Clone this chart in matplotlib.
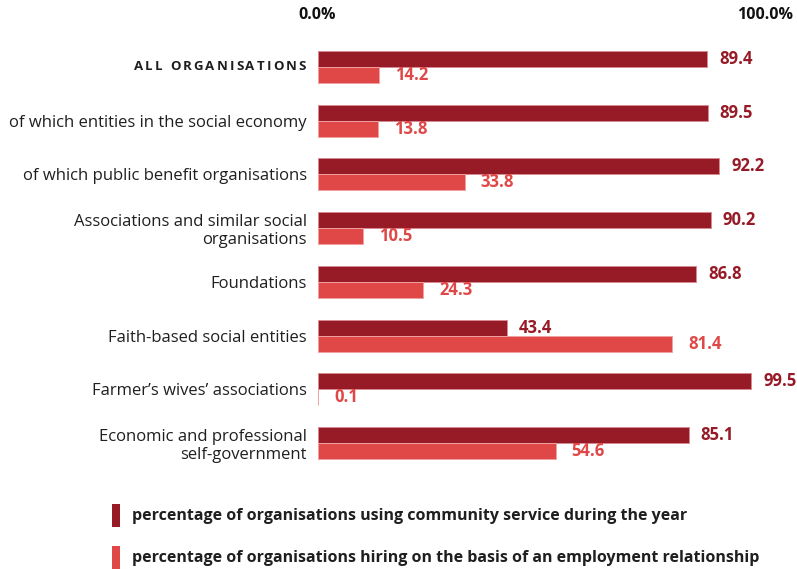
import matplotlib
matplotlib.use("Agg")
import matplotlib.pyplot as plt
import matplotlib.transforms as mtransforms
from matplotlib.patches import Rectangle
from matplotlib.textpath import TextToPath
from matplotlib.font_manager import FontProperties
import numpy as np

categories = [
    "ALL ORGANISATIONS",
    "of which entities in the social economy",
    "of which public benefit organisations",
    "Associations and similar social\norganisations",
    "Foundations",
    "Faith-based social entities",
    "Farmer\u2019s wives\u2019 associations",
    "Economic and professional\nself-government",
]
community_service = [89.4, 89.5, 92.2, 90.2, 86.8, 43.4, 99.5, 85.1]
employment = [14.2, 13.8, 33.8, 10.5, 24.3, 81.4, 0.1, 54.6]
series_names = [
    "percentage of organisations using community service during the year",
    "percentage of organisations hiring on the basis of an employment relationship",
]
axis_labels = ["0.0%", "100.0%"]

DARK = "#961b26"
RED = "#e04848"
TEXT = "#1f1f1f"
FONT = "Open Sans"

W, H = 797, 569
fig = plt.figure(figsize=(W / 100, H / 100), dpi=100)
ax = fig.add_axes([317.5 / W, 1 - 470 / H, 436 / W, 430 / H])

y = np.arange(len(categories))
bh = 0.298
ax.barh(y - bh / 2, community_service, height=bh, color=DARK,
        edgecolor="#d98a92", linewidth=0.7)
ax.barh(y + bh / 2, employment, height=bh, color=RED,
        edgecolor="#f2a0a0", linewidth=0.7)

ax.set_xlim(0, 100)
ax.set_ylim(len(categories) - 0.5, -0.5)
for s in ax.spines.values():
    s.set_visible(False)

# value labels at bar ends
for yi, v in zip(y, community_service):
    ax.annotate(f"{v:.1f}", (v, yi - bh / 2), xytext=(12, 0),
                textcoords="offset pixels", va="center", ha="left",
                color=DARK, fontsize=12, fontweight="bold", family=FONT)
for yi, v in zip(y, employment):
    ax.annotate(f"{v:.1f}", (v, yi + bh / 2), xytext=(16, 0),
                textcoords="offset pixels", va="center", ha="left",
                color=RED, fontsize=12, fontweight="bold", family=FONT)

# top scale labels
ax.xaxis.tick_top()
ax.set_xticks([0, 100])
ax.set_xticklabels(axis_labels, fontsize=11.5, fontweight="bold",
                   family=FONT, color="#111111")
ax.tick_params(axis="x", length=0, pad=12)
lab100 = ax.get_xticklabels()[1]
lab100.set_transform(lab100.get_transform() +
                     mtransforms.ScaledTranslation(12 / 100, 0, fig.dpi_scale_trans))

# category labels
ax.set_yticks(y)
ax.set_yticklabels([""] + categories[1:], fontsize=12, family=FONT,
                   color=TEXT, linespacing=1.15)
ax.tick_params(axis="y", length=0, pad=7.5)

# letter-spaced heading for the first category
prop = FontProperties(family=FONT, weight="bold", size=9.5)
t2p = TextToPath()
tracking = 2.2
chars = list(categories[0])
widths = []
for c in chars:
    w, _, _ = t2p.get_text_width_height_descent(c, prop, ismath=False)
    widths.append(w * 100 / 72)
total = sum(widths) + tracking * (len(chars) - 1)
trans = mtransforms.blended_transform_factory(fig.transFigure, ax.transData)
xpix = 306 - total
for c, w in zip(chars, widths):
    fig.text(xpix / W, y[0], c, transform=trans, fontproperties=prop,
             color=TEXT, va="center", ha="left")
    xpix += w + tracking

# legend
for i, (name, col) in enumerate(zip(series_names, [DARK, RED])):
    top = 504 + i * 42
    fig.add_artist(Rectangle((112 / W, 1 - (top + 23) / H), 8 / W, 23 / H,
                             transform=fig.transFigure, color=col, lw=0))
    fig.text(132 / W, 1 - (top + 12) / H, name, fontsize=11.5,
             fontweight="bold", family=FONT, color=TEXT, va="center",
             ha="left")

fig.savefig("out.png", dpi=100)
